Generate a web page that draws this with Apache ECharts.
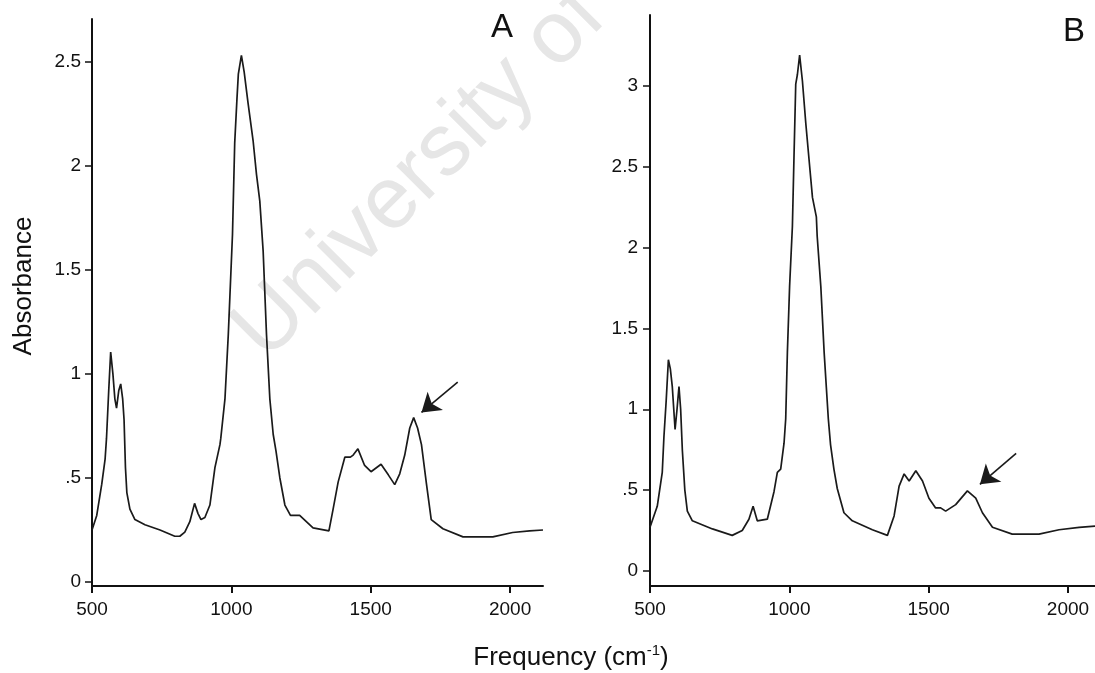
<!DOCTYPE html>
<html>
<head>
<meta charset="utf-8">
<script src="https://cdn.jsdelivr.net/npm/echarts@6/dist/echarts.min.js"></script>
<style>
  html, body { margin: 0; padding: 0; background: #fff; }
  #chart { width: 1095px; height: 673px; }
</style>
</head>
<body>
<div id="chart"></div>
<script>
// Spectrum A: frequency (cm-1) and absorbance
const freqA = [500, 517, 535, 547, 552, 560, 567, 575, 582, 588, 596, 603, 610, 615, 620, 625, 636, 654, 690, 744, 797, 815, 833, 851, 868, 880, 891, 905, 923, 941, 959, 962, 977, 989, 1004, 1012, 1020, 1025, 1036, 1046, 1060, 1078, 1090, 1102, 1114, 1126, 1138, 1150, 1160, 1174, 1192, 1212, 1245, 1293, 1350, 1365, 1383, 1407, 1427, 1437, 1454, 1478, 1501, 1537, 1563, 1586, 1604, 1622, 1640, 1654, 1668, 1682, 1700, 1717, 1759, 1831, 1938, 2009, 2070, 2118];
const absA  = [0.25, 0.32, 0.47, 0.59, 0.69, 0.92, 1.105, 1.00, 0.88, 0.836, 0.92, 0.952, 0.88, 0.78, 0.55, 0.43, 0.35, 0.30, 0.275, 0.25, 0.22, 0.22, 0.24, 0.29, 0.378, 0.33, 0.30, 0.31, 0.37, 0.55, 0.66, 0.69, 0.88, 1.19, 1.67, 2.11, 2.32, 2.44, 2.53, 2.45, 2.30, 2.12, 1.96, 1.83, 1.59, 1.19, 0.88, 0.71, 0.63, 0.50, 0.37, 0.32, 0.32, 0.26, 0.246, 0.35, 0.48, 0.60, 0.60, 0.61, 0.64, 0.56, 0.53, 0.566, 0.515, 0.468, 0.52, 0.61, 0.74, 0.79, 0.74, 0.66, 0.47, 0.30, 0.256, 0.217, 0.217, 0.238, 0.246, 0.25];

// Spectrum B
const freqB = [500, 526, 544, 550, 558, 566, 573, 580, 590, 597, 604, 610, 616, 625, 634, 652, 724, 795, 831, 855, 870, 885, 921, 945, 957, 969, 981, 987, 993, 1001, 1011, 1017, 1023, 1029, 1037, 1047, 1059, 1071, 1083, 1097, 1100, 1113, 1125, 1140, 1148, 1160, 1172, 1196, 1226, 1298, 1352, 1376, 1394, 1412, 1430, 1454, 1478, 1501, 1525, 1543, 1561, 1597, 1639, 1669, 1693, 1729, 1800, 1896, 1968, 2040, 2097];
const absB  = [0.27, 0.40, 0.61, 0.83, 1.05, 1.306, 1.25, 1.14, 0.875, 1.00, 1.14, 1.00, 0.75, 0.50, 0.37, 0.31, 0.26, 0.22, 0.25, 0.32, 0.40, 0.31, 0.32, 0.49, 0.61, 0.63, 0.79, 0.94, 1.35, 1.76, 2.13, 2.58, 3.01, 3.07, 3.19, 3.03, 2.77, 2.54, 2.31, 2.19, 2.07, 1.76, 1.35, 0.94, 0.78, 0.63, 0.51, 0.36, 0.31, 0.255, 0.22, 0.34, 0.525, 0.60, 0.556, 0.62, 0.556, 0.45, 0.39, 0.39, 0.37, 0.41, 0.495, 0.45, 0.36, 0.27, 0.228, 0.228, 0.255, 0.27, 0.277];

// Axis ticks
const xTicks  = [500, 1000, 1500, 2000];
const yTicksA = [0, 0.5, 1, 1.5, 2, 2.5];
const yTicksB = [0, 0.5, 1, 1.5, 2, 2.5, 3];

// Arrows marking the band near 1650 cm-1: [tail, head] in data units
const arrowA = [[1812, 0.96], [1682, 0.815]];
const arrowB = [[1814, 0.727], [1684, 0.536]];

const FONT = '"Liberation Sans", Arial, Helvetica, sans-serif';
const INK = '#111';

const zip = (xs, ys) => xs.map((x, i) => [x, ys[i]]);
const yFmt = v => (v === 0.5 ? '.5' : String(v));

function xAxisFor(gridIndex, max) {
  return {
    type: 'value', gridIndex, min: 500, max,
    axisLine: { show: true, onZero: false, lineStyle: { color: INK, width: 2 } },
    axisTick: { show: true, customValues: xTicks, length: 7, lineStyle: { color: INK, width: 2 } },
    axisLabel: { customValues: xTicks, formatter: v => String(v), color: INK, fontFamily: FONT, fontSize: 19, margin: 14 },
    splitLine: { show: false }
  };
}
function yAxisFor(gridIndex, min, max, ticks, margin) {
  return {
    type: 'value', gridIndex, min, max,
    axisLine: { show: true, onZero: false, lineStyle: { color: INK, width: 2 } },
    axisTick: { show: true, customValues: ticks, length: 7, lineStyle: { color: INK, width: 1.5 } },
    axisLabel: { customValues: ticks, formatter: yFmt, color: INK, fontFamily: FONT, fontSize: 19, margin },
    splitLine: { show: false }
  };
}
function spectrum(idx, data, arrow) {
  return {
    type: 'line', xAxisIndex: idx, yAxisIndex: idx, data,
    showSymbol: false, symbol: 'none', smooth: false, z: 3,
    lineStyle: { color: '#1a1a1a', width: 1.7 },
    emphasis: { disabled: true },
    markLine: {
      silent: true, animation: false,
      symbol: ['none', 'arrow'], symbolSize: 18,
      label: { show: false },
      lineStyle: { color: '#1a1a1a', width: 1.6, type: 'solid' },
      itemStyle: { color: '#1a1a1a' },
      data: [[{ coord: arrow[0] }, { coord: arrow[1] }]]
    }
  };
}

const chart = echarts.init(document.getElementById('chart'), null, { renderer: 'canvas' });
chart.setOption({
  animation: false,
  backgroundColor: '#fff',
  grid: [
    { left: 92, top: 19, width: 451, height: 567 },
    { left: 650, top: 15, width: 446, height: 571 }
  ],
  xAxis: [xAxisFor(0, 2118), xAxisFor(1, 2097)],
  yAxis: [
    yAxisFor(0, -0.019, 2.705, yTicksA, 11),
    yAxisFor(1, -0.093, 3.438, yTicksB, 12)
  ],
  series: [
    spectrum(0, zip(freqA, absA), arrowA),
    spectrum(1, zip(freqB, absB), arrowB)
  ],
  graphic: [
    {
      type: 'text', x: 420, y: 174, rotation: 45 * Math.PI / 180, z: -10, silent: true,
      style: { text: 'University of', font: '88px ' + FONT, fill: '#e6e6e6', align: 'center', verticalAlign: 'middle' }
    },
    {
      type: 'text', x: 502, y: 28, z: 10,
      style: { text: 'A', font: '33px ' + FONT, fill: INK, align: 'center', verticalAlign: 'middle' }
    },
    {
      type: 'text', x: 1074, y: 32, z: 10,
      style: { text: 'B', font: '33px ' + FONT, fill: INK, align: 'center', verticalAlign: 'middle' }
    },
    {
      type: 'text', x: 24, y: 286, rotation: Math.PI / 2, z: 10,
      style: { text: 'Absorbance', font: '26px ' + FONT, fill: INK, align: 'center', verticalAlign: 'middle' }
    },
    {
      type: 'text', x: 571, y: 658, z: 10,
      style: {
        text: '{a|Frequency (cm}{s|-1}{a|)}',
        align: 'center', verticalAlign: 'middle',
        rich: {
          a: { fontFamily: FONT, fontSize: 26, fill: INK, color: INK, lineHeight: 30 },
          s: { fontFamily: FONT, fontSize: 15, fill: INK, color: INK, verticalAlign: 'top', lineHeight: 30 }
        }
      }
    }
  ]
});
</script>
</body>
</html>
